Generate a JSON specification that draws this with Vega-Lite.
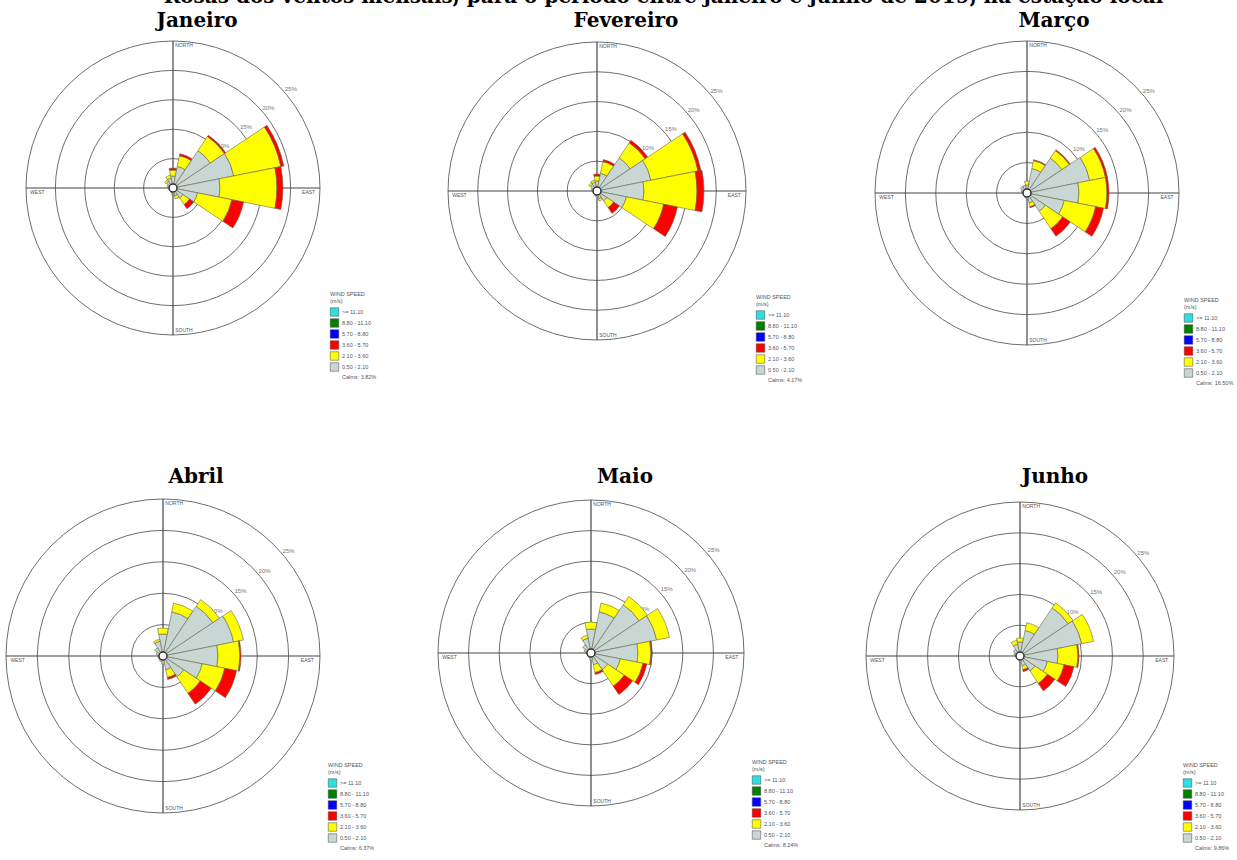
{
  "$schema": "https://vega.github.io/schema/vega-lite/v6.json",
  "padding": {"left": 3, "top": -13, "right": 0, "bottom": 0},
  "background": "white",
  "title": {"text": "Rosas dos ventos mensais, para o período entre janeiro e junho de 2019, na estação local", "dx": 45, "offset": 4},
  "datasets": {
    "rings": [{"r": 5, "lab": "5%"}, {"r": 10, "lab": "10%"}, {"r": 15, "lab": "15%"}, {"r": 20, "lab": "20%"}, {"r": 25, "lab": "25%"}],
    "cross": [{"x1": -1, "x2": 1, "y1": 0, "y2": 0}, {"x1": 0, "x2": 0, "y1": -1, "y2": 1}],
    "compass": [{"t": "NORTH", "x": 0.015, "y": 0.972}, {"t": "SOUTH", "x": 0.015, "y": -0.966}, {"t": "WEST", "x": -0.972, "y": -0.024}, {"t": "EAST", "x": 0.878, "y": -0.024}],
    "center": [{"c": 0}],
    "rose": [
      {"m": "Janeiro", "d": 0, "s1": 2.04, "s2": 1.02, "s3": 0.34},
      {"m": "Janeiro", "d": 22.5, "s1": 3.74, "s2": 1.87, "s3": 0.34},
      {"m": "Janeiro", "d": 45, "s1": 7.65, "s2": 2.89, "s3": 0.26},
      {"m": "Janeiro", "d": 67.5, "s1": 10.54, "s2": 8.16, "s3": 0.51},
      {"m": "Janeiro", "d": 90, "s1": 7.99, "s2": 9.69, "s3": 1.02},
      {"m": "Janeiro", "d": 112.5, "s1": 4.25, "s2": 5.95, "s3": 2.04},
      {"m": "Janeiro", "d": 135, "s1": 2.04, "s2": 1.36, "s3": 0.85},
      {"m": "Janeiro", "d": 157.5, "s1": 1.36, "s2": 0.51},
      {"m": "Janeiro", "d": 180, "s1": 1.02, "s2": 0.17},
      {"m": "Janeiro", "d": 202.5, "s1": 0.85},
      {"m": "Janeiro", "d": 225, "s1": 0.68},
      {"m": "Janeiro", "d": 247.5, "s1": 0.68},
      {"m": "Janeiro", "d": 270, "s1": 0.85},
      {"m": "Janeiro", "d": 292.5, "s1": 1.02},
      {"m": "Janeiro", "d": 315, "s1": 1.36, "s2": 0.34},
      {"m": "Janeiro", "d": 337.5, "s1": 1.70, "s2": 0.51},
      {"m": "Fevereiro", "d": 0, "s1": 1.68, "s2": 0.84, "s3": 0.34},
      {"m": "Fevereiro", "d": 22.5, "s1": 3.02, "s2": 2.01, "s3": 0.34},
      {"m": "Fevereiro", "d": 45, "s1": 6.71, "s2": 3.02, "s3": 0.50},
      {"m": "Fevereiro", "d": 67.5, "s1": 9.23, "s2": 8.05, "s3": 0.50},
      {"m": "Fevereiro", "d": 90, "s1": 7.89, "s2": 8.89, "s3": 1.17},
      {"m": "Fevereiro", "d": 112.5, "s1": 5.03, "s2": 6.38, "s3": 2.35},
      {"m": "Fevereiro", "d": 135, "s1": 2.01, "s2": 1.34, "s3": 1.17},
      {"m": "Fevereiro", "d": 157.5, "s1": 1.34, "s2": 0.34},
      {"m": "Fevereiro", "d": 180, "s1": 1.01},
      {"m": "Fevereiro", "d": 202.5, "s1": 0.84},
      {"m": "Fevereiro", "d": 225, "s1": 0.67},
      {"m": "Fevereiro", "d": 247.5, "s1": 0.67},
      {"m": "Fevereiro", "d": 270, "s1": 0.84},
      {"m": "Fevereiro", "d": 292.5, "s1": 1.01},
      {"m": "Fevereiro", "d": 315, "s1": 1.34, "s2": 0.34},
      {"m": "Fevereiro", "d": 337.5, "s1": 1.51, "s2": 0.34},
      {"m": "Março", "d": 0, "s1": 1.32, "s2": 0.66},
      {"m": "Março", "d": 22.5, "s1": 4.11, "s2": 1.32, "s3": 0.16},
      {"m": "Março", "d": 45, "s1": 6.91, "s2": 1.48, "s3": 0.16},
      {"m": "Março", "d": 67.5, "s1": 10.53, "s2": 2.63, "s3": 0.33},
      {"m": "Março", "d": 90, "s1": 8.55, "s2": 4.61, "s3": 0.33},
      {"m": "Março", "d": 112.5, "s1": 6.25, "s2": 5.26, "s3": 1.32},
      {"m": "Março", "d": 135, "s1": 3.62, "s2": 3.45, "s3": 1.48},
      {"m": "Março", "d": 157.5, "s1": 1.65, "s2": 0.66, "s3": 0.16},
      {"m": "Março", "d": 180, "s1": 0.99},
      {"m": "Março", "d": 202.5, "s1": 0.82},
      {"m": "Março", "d": 225, "s1": 0.66},
      {"m": "Março", "d": 247.5, "s1": 0.66},
      {"m": "Março", "d": 270, "s1": 0.82},
      {"m": "Março", "d": 292.5, "s1": 0.99},
      {"m": "Março", "d": 315, "s1": 1.32},
      {"m": "Março", "d": 337.5, "s1": 1.32},
      {"m": "Abril", "d": 0, "s1": 3.50, "s2": 0.96},
      {"m": "Abril", "d": 22.5, "s1": 7.16, "s2": 1.43},
      {"m": "Abril", "d": 45, "s1": 9.55, "s2": 1.27},
      {"m": "Abril", "d": 67.5, "s1": 11.46, "s2": 1.59},
      {"m": "Abril", "d": 90, "s1": 8.76, "s2": 3.50, "s3": 0.16},
      {"m": "Abril", "d": 112.5, "s1": 6.37, "s2": 3.66, "s3": 1.91},
      {"m": "Abril", "d": 135, "s1": 3.98, "s2": 3.18, "s3": 2.07},
      {"m": "Abril", "d": 157.5, "s1": 2.23, "s2": 1.27, "s3": 0.32},
      {"m": "Abril", "d": 180, "s1": 1.27},
      {"m": "Abril", "d": 202.5, "s1": 0.96},
      {"m": "Abril", "d": 225, "s1": 0.80},
      {"m": "Abril", "d": 247.5, "s1": 0.80},
      {"m": "Abril", "d": 270, "s1": 0.80},
      {"m": "Abril", "d": 292.5, "s1": 1.11},
      {"m": "Abril", "d": 315, "s1": 1.59},
      {"m": "Abril", "d": 337.5, "s1": 2.39, "s2": 0.32},
      {"m": "Maio", "d": 0, "s1": 3.92, "s2": 1.14},
      {"m": "Maio", "d": 22.5, "s1": 6.86, "s2": 1.47},
      {"m": "Maio", "d": 45, "s1": 9.48, "s2": 1.63},
      {"m": "Maio", "d": 67.5, "s1": 10.95, "s2": 2.12},
      {"m": "Maio", "d": 90, "s1": 7.68, "s2": 2.12, "s3": 0.16},
      {"m": "Maio", "d": 112.5, "s1": 4.90, "s2": 3.76, "s3": 0.65},
      {"m": "Maio", "d": 135, "s1": 3.27, "s2": 3.27, "s3": 1.63},
      {"m": "Maio", "d": 157.5, "s1": 1.96, "s2": 1.31, "s3": 0.33},
      {"m": "Maio", "d": 180, "s1": 1.14},
      {"m": "Maio", "d": 202.5, "s1": 0.82},
      {"m": "Maio", "d": 225, "s1": 0.65},
      {"m": "Maio", "d": 247.5, "s1": 0.65},
      {"m": "Maio", "d": 270, "s1": 0.82},
      {"m": "Maio", "d": 292.5, "s1": 1.14},
      {"m": "Maio", "d": 315, "s1": 1.63},
      {"m": "Maio", "d": 337.5, "s1": 2.45, "s2": 0.49},
      {"m": "Junho", "d": 0, "s1": 2.27, "s2": 0.65},
      {"m": "Junho", "d": 22.5, "s1": 4.22, "s2": 1.30},
      {"m": "Junho", "d": 45, "s1": 9.41, "s2": 0.97},
      {"m": "Junho", "d": 67.5, "s1": 10.22, "s2": 1.95},
      {"m": "Junho", "d": 90, "s1": 6.17, "s2": 3.25, "s3": 0.16},
      {"m": "Junho", "d": 112.5, "s1": 4.54, "s2": 2.76, "s3": 1.62},
      {"m": "Junho", "d": 135, "s1": 2.92, "s2": 2.43, "s3": 1.46},
      {"m": "Junho", "d": 157.5, "s1": 1.62, "s2": 0.65, "s3": 0.32},
      {"m": "Junho", "d": 180, "s1": 0.97},
      {"m": "Junho", "d": 202.5, "s1": 0.65},
      {"m": "Junho", "d": 225, "s1": 0.65},
      {"m": "Junho", "d": 247.5, "s1": 0.49},
      {"m": "Junho", "d": 270, "s1": 0.65},
      {"m": "Junho", "d": 292.5, "s1": 0.97},
      {"m": "Junho", "d": 315, "s1": 1.30},
      {"m": "Junho", "d": 337.5, "s1": 1.95, "s2": 0.65}
    ]
  },
  "columns": 3,
  "align": "each",
  "bounds": "flush",
  "spacing": {"row": 124, "column": 87},
  "resolve": {"scale": {"x": "independent", "y": "independent", "radius": "independent", "theta": "independent", "color": "independent"}, "legend": {"color": "independent"}},
  "concat": [
    {
      "width": 340, "height": 336,
      "title": {"text": "Janeiro", "dx": 24, "offset": -11},
      "layer": [
        {"data": {"name": "rings"}, "mark": {"type": "arc", "theta": 0, "theta2": 6.2832, "filled": false, "stroke": "#6e6e6e", "strokeWidth": 1},
         "encoding": {"radius": {"field": "r", "type": "quantitative", "stack": null, "scale": {"type": "linear", "domain": [0, 25], "range": [0, 147], "zero": true, "nice": false}}}},
        {"data": {"name": "rings"}, "mark": {"type": "text", "fontSize": 6, "color": "#777777", "radiusOffset": 7, "font": "Liberation Sans"},
         "encoding": {"theta": {"datum": 50, "type": "quantitative", "scale": {"domain": [0, 360], "range": [0, 6.283185]}}, "radius": {"field": "r", "type": "quantitative", "stack": null}, "text": {"field": "lab"}}},
        {"data": {"name": "cross"}, "mark": {"type": "rule", "color": "#444444", "strokeWidth": 1.2},
         "encoding": {"x": {"field": "x1", "type": "quantitative", "scale": {"domain": [-1.1565, 1.1565], "nice": false, "zero": false}, "axis": null}, "x2": {"field": "x2"}, "y": {"field": "y1", "type": "quantitative", "scale": {"domain": [-1.1429, 1.1429], "nice": false, "zero": false}, "axis": null}, "y2": {"field": "y2"}}},
        {"data": {"name": "compass"}, "mark": {"type": "text", "fontSize": 5, "align": "left", "color": "#555555", "font": "Liberation Sans"},
         "encoding": {"x": {"field": "x", "type": "quantitative"}, "y": {"field": "y", "type": "quantitative"}, "text": {"field": "t"}}},
        {"data": {"name": "rose"},
         "transform": [{"filter": "datum.m == 'Janeiro'"}, {"fold": ["s1", "s2", "s3"], "as": ["k", "v"]}, {"filter": "isValid(datum.v) && datum.v > 0"}, {"window": [{"op": "sum", "field": "v", "as": "r1"}], "groupby": ["d"], "sort": [{"field": "k"}], "frame": [null, 0]}, {"calculate": "datum.r1 - datum.v", "as": "r0"}, {"calculate": "datum.d - 11.25", "as": "t0"}, {"calculate": "datum.d + 11.25", "as": "t1"}],
         "mark": {"type": "arc", "stroke": "#66664a", "strokeWidth": 0.6},
         "encoding": {
           "theta": {"field": "t0", "type": "quantitative", "scale": {"domain": [0, 360], "range": [0, 6.283185]}}, "theta2": {"field": "t1"},
           "radius": {"field": "r1", "type": "quantitative", "scale": {"type": "linear", "domain": [0, 25], "range": [0, 147], "zero": true, "nice": false}}, "radius2": {"field": "r0"},
           "color": {"field": "k", "type": "nominal", "scale": {"domain": ["s6", "s5", "s4", "s3", "s2", "s1", "calm"], "range": ["#30dede", "#008000", "#0000ff", "#ff0000", "#ffff00", "#c8d6d4", "#ffffff"]},
             "legend": {"orient": "none", "legendX": 327, "legendY": 272, "title": ["WIND SPEED", "(m/s)"], "labelExpr": "datum.value == 's6' ? '>= 11.10' : datum.value == 's5' ? '8.80 - 11.10' : datum.value == 's4' ? '5.70 - 8.80' : datum.value == 's3' ? '3.60 - 5.70' : datum.value == 's2' ? '2.10 - 3.60' : datum.value == 's1' ? '0.50 - 2.10' : 'Calms: 3.82%'", "encode": {"symbols": {"update": {"opacity": {"signal": "datum.value == 'calm' ? 0 : 1"}}}}}}
         }},
        {"data": {"name": "center"}, "mark": {"type": "arc", "theta": 0, "theta2": 6.2832, "radius": 4, "fill": "#ffffff", "stroke": "#333333", "strokeWidth": 1.5}, "encoding": {}}
      ]
    },
    {
      "width": 334, "height": 342,
      "title": {"text": "Fevereiro", "dx": 29, "offset": -11},
      "layer": [
        {"data": {"name": "rings"}, "mark": {"type": "arc", "theta": 0, "theta2": 6.2832, "filled": false, "stroke": "#6e6e6e", "strokeWidth": 1},
         "encoding": {"radius": {"field": "r", "type": "quantitative", "stack": null, "scale": {"type": "linear", "domain": [0, 25], "range": [0, 149], "zero": true, "nice": false}}}},
        {"data": {"name": "rings"}, "mark": {"type": "text", "fontSize": 6, "color": "#777777", "radiusOffset": 7, "font": "Liberation Sans"},
         "encoding": {"theta": {"datum": 50, "type": "quantitative", "scale": {"domain": [0, 360], "range": [0, 6.283185]}}, "radius": {"field": "r", "type": "quantitative", "stack": null}, "text": {"field": "lab"}}},
        {"data": {"name": "cross"}, "mark": {"type": "rule", "color": "#444444", "strokeWidth": 1.2},
         "encoding": {"x": {"field": "x1", "type": "quantitative", "scale": {"domain": [-1.1208, 1.1208], "nice": false, "zero": false}, "axis": null}, "x2": {"field": "x2"}, "y": {"field": "y1", "type": "quantitative", "scale": {"domain": [-1.1477, 1.1477], "nice": false, "zero": false}, "axis": null}, "y2": {"field": "y2"}}},
        {"data": {"name": "compass"}, "mark": {"type": "text", "fontSize": 5, "align": "left", "color": "#555555", "font": "Liberation Sans"},
         "encoding": {"x": {"field": "x", "type": "quantitative"}, "y": {"field": "y", "type": "quantitative"}, "text": {"field": "t"}}},
        {"data": {"name": "rose"},
         "transform": [{"filter": "datum.m == 'Fevereiro'"}, {"fold": ["s1", "s2", "s3"], "as": ["k", "v"]}, {"filter": "isValid(datum.v) && datum.v > 0"}, {"window": [{"op": "sum", "field": "v", "as": "r1"}], "groupby": ["d"], "sort": [{"field": "k"}], "frame": [null, 0]}, {"calculate": "datum.r1 - datum.v", "as": "r0"}, {"calculate": "datum.d - 11.25", "as": "t0"}, {"calculate": "datum.d + 11.25", "as": "t1"}],
         "mark": {"type": "arc", "stroke": "#66664a", "strokeWidth": 0.6},
         "encoding": {
           "theta": {"field": "t0", "type": "quantitative", "scale": {"domain": [0, 360], "range": [0, 6.283185]}}, "theta2": {"field": "t1"},
           "radius": {"field": "r1", "type": "quantitative", "scale": {"type": "linear", "domain": [0, 25], "range": [0, 149], "zero": true, "nice": false}}, "radius2": {"field": "r0"},
           "color": {"field": "k", "type": "nominal", "scale": {"domain": ["s6", "s5", "s4", "s3", "s2", "s1", "calm"], "range": ["#30dede", "#008000", "#0000ff", "#ff0000", "#ffff00", "#c8d6d4", "#ffffff"]},
             "legend": {"orient": "none", "legendX": 326, "legendY": 275, "title": ["WIND SPEED", "(m/s)"], "labelExpr": "datum.value == 's6' ? '>= 11.10' : datum.value == 's5' ? '8.80 - 11.10' : datum.value == 's4' ? '5.70 - 8.80' : datum.value == 's3' ? '3.60 - 5.70' : datum.value == 's2' ? '2.10 - 3.60' : datum.value == 's1' ? '0.50 - 2.10' : 'Calms: 4.17%'", "encode": {"symbols": {"update": {"opacity": {"signal": "datum.value == 'calm' ? 0 : 1"}}}}}}
         }},
        {"data": {"name": "center"}, "mark": {"type": "arc", "theta": 0, "theta2": 6.2832, "radius": 4, "fill": "#ffffff", "stroke": "#333333", "strokeWidth": 1.5}, "encoding": {}}
      ]
    },
    {
      "width": 352, "height": 346,
      "title": {"text": "Março", "dx": 27, "offset": -11},
      "layer": [
        {"data": {"name": "rings"}, "mark": {"type": "arc", "theta": 0, "theta2": 6.2832, "filled": false, "stroke": "#6e6e6e", "strokeWidth": 1},
         "encoding": {"radius": {"field": "r", "type": "quantitative", "stack": null, "scale": {"type": "linear", "domain": [0, 25], "range": [0, 152], "zero": true, "nice": false}}}},
        {"data": {"name": "rings"}, "mark": {"type": "text", "fontSize": 6, "color": "#777777", "radiusOffset": 7, "font": "Liberation Sans"},
         "encoding": {"theta": {"datum": 50, "type": "quantitative", "scale": {"domain": [0, 360], "range": [0, 6.283185]}}, "radius": {"field": "r", "type": "quantitative", "stack": null}, "text": {"field": "lab"}}},
        {"data": {"name": "cross"}, "mark": {"type": "rule", "color": "#444444", "strokeWidth": 1.2},
         "encoding": {"x": {"field": "x1", "type": "quantitative", "scale": {"domain": [-1.1579, 1.1579], "nice": false, "zero": false}, "axis": null}, "x2": {"field": "x2"}, "y": {"field": "y1", "type": "quantitative", "scale": {"domain": [-1.1382, 1.1382], "nice": false, "zero": false}, "axis": null}, "y2": {"field": "y2"}}},
        {"data": {"name": "compass"}, "mark": {"type": "text", "fontSize": 5, "align": "left", "color": "#555555", "font": "Liberation Sans"},
         "encoding": {"x": {"field": "x", "type": "quantitative"}, "y": {"field": "y", "type": "quantitative"}, "text": {"field": "t"}}},
        {"data": {"name": "rose"},
         "transform": [{"filter": "datum.m == 'Março'"}, {"fold": ["s1", "s2", "s3"], "as": ["k", "v"]}, {"filter": "isValid(datum.v) && datum.v > 0"}, {"window": [{"op": "sum", "field": "v", "as": "r1"}], "groupby": ["d"], "sort": [{"field": "k"}], "frame": [null, 0]}, {"calculate": "datum.r1 - datum.v", "as": "r0"}, {"calculate": "datum.d - 11.25", "as": "t0"}, {"calculate": "datum.d + 11.25", "as": "t1"}],
         "mark": {"type": "arc", "stroke": "#66664a", "strokeWidth": 0.6},
         "encoding": {
           "theta": {"field": "t0", "type": "quantitative", "scale": {"domain": [0, 360], "range": [0, 6.283185]}}, "theta2": {"field": "t1"},
           "radius": {"field": "r1", "type": "quantitative", "scale": {"type": "linear", "domain": [0, 25], "range": [0, 152], "zero": true, "nice": false}}, "radius2": {"field": "r0"},
           "color": {"field": "k", "type": "nominal", "scale": {"domain": ["s6", "s5", "s4", "s3", "s2", "s1", "calm"], "range": ["#30dede", "#008000", "#0000ff", "#ff0000", "#ffff00", "#c8d6d4", "#ffffff"]},
             "legend": {"orient": "none", "legendX": 333, "legendY": 278, "title": ["WIND SPEED", "(m/s)"], "labelExpr": "datum.value == 's6' ? '>= 11.10' : datum.value == 's5' ? '8.80 - 11.10' : datum.value == 's4' ? '5.70 - 8.80' : datum.value == 's3' ? '3.60 - 5.70' : datum.value == 's2' ? '2.10 - 3.60' : datum.value == 's1' ? '0.50 - 2.10' : 'Calms: 16.50%'", "encode": {"symbols": {"update": {"opacity": {"signal": "datum.value == 'calm' ? 0 : 1"}}}}}}
         }},
        {"data": {"name": "center"}, "mark": {"type": "arc", "theta": 0, "theta2": 6.2832, "radius": 4, "fill": "#ffffff", "stroke": "#333333", "strokeWidth": 1.5}, "encoding": {}}
      ]
    },
    {
      "width": 320, "height": 332,
      "title": {"text": "Abril", "dx": 33, "offset": 3},
      "layer": [
        {"data": {"name": "rings"}, "mark": {"type": "arc", "theta": 0, "theta2": 6.2832, "filled": false, "stroke": "#6e6e6e", "strokeWidth": 1},
         "encoding": {"radius": {"field": "r", "type": "quantitative", "stack": null, "scale": {"type": "linear", "domain": [0, 25], "range": [0, 157], "zero": true, "nice": false}}}},
        {"data": {"name": "rings"}, "mark": {"type": "text", "fontSize": 6, "color": "#777777", "radiusOffset": 7, "font": "Liberation Sans"},
         "encoding": {"theta": {"datum": 50, "type": "quantitative", "scale": {"domain": [0, 360], "range": [0, 6.283185]}}, "radius": {"field": "r", "type": "quantitative", "stack": null}, "text": {"field": "lab"}}},
        {"data": {"name": "cross"}, "mark": {"type": "rule", "color": "#444444", "strokeWidth": 1.2},
         "encoding": {"x": {"field": "x1", "type": "quantitative", "scale": {"domain": [-1.0191, 1.0191], "nice": false, "zero": false}, "axis": null}, "x2": {"field": "x2"}, "y": {"field": "y1", "type": "quantitative", "scale": {"domain": [-1.0573, 1.0573], "nice": false, "zero": false}, "axis": null}, "y2": {"field": "y2"}}},
        {"data": {"name": "compass"}, "mark": {"type": "text", "fontSize": 5, "align": "left", "color": "#555555", "font": "Liberation Sans"},
         "encoding": {"x": {"field": "x", "type": "quantitative"}, "y": {"field": "y", "type": "quantitative"}, "text": {"field": "t"}}},
        {"data": {"name": "rose"},
         "transform": [{"filter": "datum.m == 'Abril'"}, {"fold": ["s1", "s2", "s3"], "as": ["k", "v"]}, {"filter": "isValid(datum.v) && datum.v > 0"}, {"window": [{"op": "sum", "field": "v", "as": "r1"}], "groupby": ["d"], "sort": [{"field": "k"}], "frame": [null, 0]}, {"calculate": "datum.r1 - datum.v", "as": "r0"}, {"calculate": "datum.d - 11.25", "as": "t0"}, {"calculate": "datum.d + 11.25", "as": "t1"}],
         "mark": {"type": "arc", "stroke": "#66664a", "strokeWidth": 0.6},
         "encoding": {
           "theta": {"field": "t0", "type": "quantitative", "scale": {"domain": [0, 360], "range": [0, 6.283185]}}, "theta2": {"field": "t1"},
           "radius": {"field": "r1", "type": "quantitative", "scale": {"type": "linear", "domain": [0, 25], "range": [0, 157], "zero": true, "nice": false}}, "radius2": {"field": "r0"},
           "color": {"field": "k", "type": "nominal", "scale": {"domain": ["s6", "s5", "s4", "s3", "s2", "s1", "calm"], "range": ["#30dede", "#008000", "#0000ff", "#ff0000", "#ffff00", "#c8d6d4", "#ffffff"]},
             "legend": {"orient": "none", "legendX": 325, "legendY": 273, "title": ["WIND SPEED", "(m/s)"], "labelExpr": "datum.value == 's6' ? '>= 11.10' : datum.value == 's5' ? '8.80 - 11.10' : datum.value == 's4' ? '5.70 - 8.80' : datum.value == 's3' ? '3.60 - 5.70' : datum.value == 's2' ? '2.10 - 3.60' : datum.value == 's1' ? '0.50 - 2.10' : 'Calms: 6.37%'", "encode": {"symbols": {"update": {"opacity": {"signal": "datum.value == 'calm' ? 0 : 1"}}}}}}
         }},
        {"data": {"name": "center"}, "mark": {"type": "arc", "theta": 0, "theta2": 6.2832, "radius": 4, "fill": "#ffffff", "stroke": "#333333", "strokeWidth": 1.5}, "encoding": {}}
      ]
    },
    {
      "width": 322, "height": 326,
      "title": {"text": "Maio", "dx": 34, "offset": 3},
      "layer": [
        {"data": {"name": "rings"}, "mark": {"type": "arc", "theta": 0, "theta2": 6.2832, "filled": false, "stroke": "#6e6e6e", "strokeWidth": 1},
         "encoding": {"radius": {"field": "r", "type": "quantitative", "stack": null, "scale": {"type": "linear", "domain": [0, 25], "range": [0, 153], "zero": true, "nice": false}}}},
        {"data": {"name": "rings"}, "mark": {"type": "text", "fontSize": 6, "color": "#777777", "radiusOffset": 7, "font": "Liberation Sans"},
         "encoding": {"theta": {"datum": 50, "type": "quantitative", "scale": {"domain": [0, 360], "range": [0, 6.283185]}}, "radius": {"field": "r", "type": "quantitative", "stack": null}, "text": {"field": "lab"}}},
        {"data": {"name": "cross"}, "mark": {"type": "rule", "color": "#444444", "strokeWidth": 1.2},
         "encoding": {"x": {"field": "x1", "type": "quantitative", "scale": {"domain": [-1.0523, 1.0523], "nice": false, "zero": false}, "axis": null}, "x2": {"field": "x2"}, "y": {"field": "y1", "type": "quantitative", "scale": {"domain": [-1.0654, 1.0654], "nice": false, "zero": false}, "axis": null}, "y2": {"field": "y2"}}},
        {"data": {"name": "compass"}, "mark": {"type": "text", "fontSize": 5, "align": "left", "color": "#555555", "font": "Liberation Sans"},
         "encoding": {"x": {"field": "x", "type": "quantitative"}, "y": {"field": "y", "type": "quantitative"}, "text": {"field": "t"}}},
        {"data": {"name": "rose"},
         "transform": [{"filter": "datum.m == 'Maio'"}, {"fold": ["s1", "s2", "s3"], "as": ["k", "v"]}, {"filter": "isValid(datum.v) && datum.v > 0"}, {"window": [{"op": "sum", "field": "v", "as": "r1"}], "groupby": ["d"], "sort": [{"field": "k"}], "frame": [null, 0]}, {"calculate": "datum.r1 - datum.v", "as": "r0"}, {"calculate": "datum.d - 11.25", "as": "t0"}, {"calculate": "datum.d + 11.25", "as": "t1"}],
         "mark": {"type": "arc", "stroke": "#66664a", "strokeWidth": 0.6},
         "encoding": {
           "theta": {"field": "t0", "type": "quantitative", "scale": {"domain": [0, 360], "range": [0, 6.283185]}}, "theta2": {"field": "t1"},
           "radius": {"field": "r1", "type": "quantitative", "scale": {"type": "linear", "domain": [0, 25], "range": [0, 153], "zero": true, "nice": false}}, "radius2": {"field": "r0"},
           "color": {"field": "k", "type": "nominal", "scale": {"domain": ["s6", "s5", "s4", "s3", "s2", "s1", "calm"], "range": ["#30dede", "#008000", "#0000ff", "#ff0000", "#ffff00", "#c8d6d4", "#ffffff"]},
             "legend": {"orient": "none", "legendX": 322, "legendY": 270, "title": ["WIND SPEED", "(m/s)"], "labelExpr": "datum.value == 's6' ? '>= 11.10' : datum.value == 's5' ? '8.80 - 11.10' : datum.value == 's4' ? '5.70 - 8.80' : datum.value == 's3' ? '3.60 - 5.70' : datum.value == 's2' ? '2.10 - 3.60' : datum.value == 's1' ? '0.50 - 2.10' : 'Calms: 8.24%'", "encode": {"symbols": {"update": {"opacity": {"signal": "datum.value == 'calm' ? 0 : 1"}}}}}}
         }},
        {"data": {"name": "center"}, "mark": {"type": "arc", "theta": 0, "theta2": 6.2832, "radius": 4, "fill": "#ffffff", "stroke": "#333333", "strokeWidth": 1.5}, "encoding": {}}
      ]
    },
    {
      "width": 338, "height": 332,
      "title": {"text": "Junho", "dx": 35, "offset": 3},
      "layer": [
        {"data": {"name": "rings"}, "mark": {"type": "arc", "theta": 0, "theta2": 6.2832, "filled": false, "stroke": "#6e6e6e", "strokeWidth": 1},
         "encoding": {"radius": {"field": "r", "type": "quantitative", "stack": null, "scale": {"type": "linear", "domain": [0, 25], "range": [0, 154], "zero": true, "nice": false}}}},
        {"data": {"name": "rings"}, "mark": {"type": "text", "fontSize": 6, "color": "#777777", "radiusOffset": 7, "font": "Liberation Sans"},
         "encoding": {"theta": {"datum": 50, "type": "quantitative", "scale": {"domain": [0, 360], "range": [0, 6.283185]}}, "radius": {"field": "r", "type": "quantitative", "stack": null}, "text": {"field": "lab"}}},
        {"data": {"name": "cross"}, "mark": {"type": "rule", "color": "#444444", "strokeWidth": 1.2},
         "encoding": {"x": {"field": "x1", "type": "quantitative", "scale": {"domain": [-1.0974, 1.0974], "nice": false, "zero": false}, "axis": null}, "x2": {"field": "x2"}, "y": {"field": "y1", "type": "quantitative", "scale": {"domain": [-1.0779, 1.0779], "nice": false, "zero": false}, "axis": null}, "y2": {"field": "y2"}}},
        {"data": {"name": "compass"}, "mark": {"type": "text", "fontSize": 5, "align": "left", "color": "#555555", "font": "Liberation Sans"},
         "encoding": {"x": {"field": "x", "type": "quantitative"}, "y": {"field": "y", "type": "quantitative"}, "text": {"field": "t"}}},
        {"data": {"name": "rose"},
         "transform": [{"filter": "datum.m == 'Junho'"}, {"fold": ["s1", "s2", "s3"], "as": ["k", "v"]}, {"filter": "isValid(datum.v) && datum.v > 0"}, {"window": [{"op": "sum", "field": "v", "as": "r1"}], "groupby": ["d"], "sort": [{"field": "k"}], "frame": [null, 0]}, {"calculate": "datum.r1 - datum.v", "as": "r0"}, {"calculate": "datum.d - 11.25", "as": "t0"}, {"calculate": "datum.d + 11.25", "as": "t1"}],
         "mark": {"type": "arc", "stroke": "#66664a", "strokeWidth": 0.6},
         "encoding": {
           "theta": {"field": "t0", "type": "quantitative", "scale": {"domain": [0, 360], "range": [0, 6.283185]}}, "theta2": {"field": "t1"},
           "radius": {"field": "r1", "type": "quantitative", "scale": {"type": "linear", "domain": [0, 25], "range": [0, 154], "zero": true, "nice": false}}, "radius2": {"field": "r0"},
           "color": {"field": "k", "type": "nominal", "scale": {"domain": ["s6", "s5", "s4", "s3", "s2", "s1", "calm"], "range": ["#30dede", "#008000", "#0000ff", "#ff0000", "#ffff00", "#c8d6d4", "#ffffff"]},
             "legend": {"orient": "none", "legendX": 332, "legendY": 273, "title": ["WIND SPEED", "(m/s)"], "labelExpr": "datum.value == 's6' ? '>= 11.10' : datum.value == 's5' ? '8.80 - 11.10' : datum.value == 's4' ? '5.70 - 8.80' : datum.value == 's3' ? '3.60 - 5.70' : datum.value == 's2' ? '2.10 - 3.60' : datum.value == 's1' ? '0.50 - 2.10' : 'Calms: 9.86%'", "encode": {"symbols": {"update": {"opacity": {"signal": "datum.value == 'calm' ? 0 : 1"}}}}}}
         }},
        {"data": {"name": "center"}, "mark": {"type": "arc", "theta": 0, "theta2": 6.2832, "radius": 4, "fill": "#ffffff", "stroke": "#333333", "strokeWidth": 1.5}, "encoding": {}}
      ]
    }
  ],
  "config": {
    "view": {"stroke": null},
    "title": {"font": "DejaVu Serif", "fontSize": 20, "fontWeight": "bold", "color": "#000000", "baseline": "alphabetic", "anchor": "middle"},
    "legend": {"symbolType": "square", "symbolSize": 72, "symbolStrokeColor": "#444444", "symbolStrokeWidth": 0.5, "labelFont": "Liberation Sans", "titleFont": "Liberation Sans", "labelFontSize": 5.5, "labelColor": "#555555", "titleFontSize": 5.5, "titleColor": "#555555", "titleFontWeight": "normal", "rowPadding": 0, "labelOffset": 3, "titlePadding": 3, "padding": 0, "titleLineHeight": 7}
  }
}
